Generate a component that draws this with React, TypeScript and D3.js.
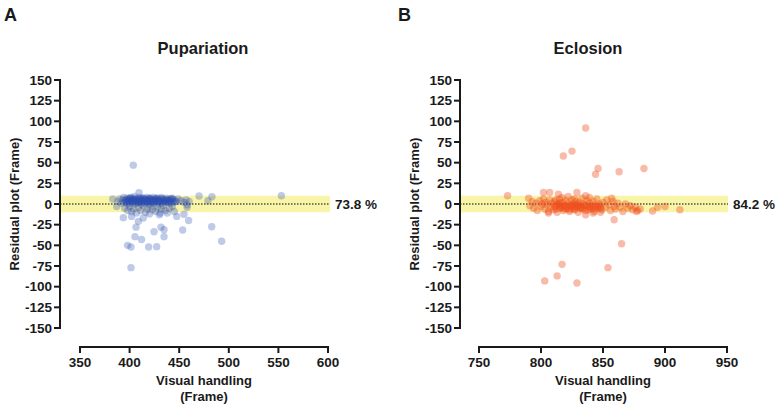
import React from "react";
import * as d3 from "d3";

// ---------- data ----------
const pupX: number[] = [
  388,390,392,393,394,395,396,397,398,398,399,400,400,401,402,403,403,404,405,405,
  406,407,408,408,409,410,410,411,412,412,413,414,415,415,416,417,418,418,419,420,
  420,421,422,423,424,424,425,426,427,428,428,429,430,431,432,433,434,435,436,437,
  438,439,440,441,442,443,444,445,447,449,452,455,457,458,460,
  396,399,401,404,406,409,411,413,416,419,421,423,426,429,431,434,437,440,443,446,
  397,400,403,405,408,411,414,417,420,422,425,427,430,433,436,439,442,
  395,398,400,402,404,407,409,411,414,416,418,420,421,423,426,428,430,432,434,436,438,440,443,445,
  403.7,409.5,553,470,483,479,387,383,393.7,402,408.8,413.8,406.5,424.6,431.7,434.7,434.7,405.4,
  412,398,401.4,419.2,427.3,401.4,447.5,454.8,459.5,453.5,482.8,492.8,431,458
];
const pupY: number[] = [
  3,6,1,5,8,2,4,7,0,5,3,6,1,8,4,2,7,5,0,9,
  3,6,1,4,7,2,5,8,3,0,6,4,1,7,5,2,8,3,6,0,
  4,7,2,5,1,8,3,6,4,0,7,2,5,3,8,1,6,4,2,7,
  5,3,6,1,4,7,2,5,3,6,4,2,5,-1,3,
  5,4,6,3,5,4,6,3,5,4,6,3,5,4,6,3,5,4,6,3,
  2,7,4,6,2,5,7,3,6,2,5,7,3,6,4,2,6,
  -5,-8,-3,-9,-6,-11,-4,-8,-2,-10,-6,-12,-3,-7,-9,-4,-13,-6,-2,-8,-11,-5,-3,-9,
  47,13.7,10,9.7,8.8,4,-3,6,-16.5,-15,-21,-17,-28,-33.5,-28,-31,-39.5,-39.5,
  -43,-50,-52,-52,-51.6,-77,-15,-12.5,-20,-31.5,-27.5,-45,-11,-4
];

const eclX: number[] = [
  790,791,793,794,796,797,799,800,801,802,803,804,805,806,807,808,809,810,811,812,
  813,814,815,815,816,817,818,819,820,820,821,822,823,824,825,825,826,827,828,828,
  829,830,831,832,833,833,834,835,836,837,838,839,840,841,842,843,844,845,846,847,
  848,849,850,852,853,855,856,858,859,860,862,864,866,868,870,872,874,876,878,880,
  811,814,816,819,821,824,826,829,831,834,836,839,841,844,846,
  812,818,823,827,832,838,843,848,815,830,
  817,822,836,842,806,812,827,839,848,857,
  836,818,825,846,844,863,883,859,865,817,813,803,829,854,773,802,807,814,829,836,877,890,894,900,912
];
const eclY: number[] = [
  7,-2,3,-5,1,-8,4,-3,0,6,-6,2,-1,-9,5,-4,1,-7,3,-2,
  -10,0,6,-5,-3,2,-8,-1,4,-6,-3,1,-9,-2,5,-5,0,-7,3,-3,
  -1,-10,2,-4,-6,7,0,-2,-8,4,-4,1,-6,-1,3,-9,-3,6,-5,0,
  -2,-7,2,-4,5,-1,-8,3,-3,-6,1,-4,-9,0,-5,-2,-7,-4,-8,-6,
  -3,-1,-4,-2,-5,-1,-3,-4,-2,-5,-1,-3,-4,-2,-3,
  -6,-5,-7,-6,-5,-7,-6,-5,1,0,
  8,9,10,-11,-11,5,6,8,-10,7,
  92,58,64,43,36,39,43,-19,-48,-73,-87,-93,-95.5,-77,10,14,14,12,14,-13,-9,-8.5,-4,-3,-7
];

const yTicks: number[] = [-150,-125,-100,-75,-50,-25,0,25,50,75,100,125,150];
const pupTicks: number[] = [350,400,450,500,550,600];
const eclTicks: number[] = [750,800,850,900,950];

const FONT = "'Liberation Sans', Arial, sans-serif";
const INK = "#1a1a1a";

type PanelProps = {
  letter: string;
  letterX: number;
  title: string;
  titleX: number;
  axisX: number;
  xDomain: [number, number];
  xRange: [number, number];
  xTicks: number[];
  xs: number[];
  ys: number[];
  color: string;
  opacity: number;
  pct: string;
  bandEnd: number;
  yLabelX: number;
};

const y = d3.scaleLinear().domain([-150, 150]).range([328, 80]);

function Panel(p: PanelProps) {
  const x = d3.scaleLinear().domain(p.xDomain).range(p.xRange);
  const xAxisY = 347;
  const plotCx = (p.xRange[0] + p.xRange[1]) / 2;
  return (
    <g>
      <text x={p.letterX} y={21} fontFamily={FONT} fontWeight="bold" fontSize={18} fill={INK}>{p.letter}</text>
      <text x={p.titleX} y={54} textAnchor="middle" fontFamily={FONT} fontWeight="bold" fontSize={16.5} fill={INK}>{p.title}</text>
      {/* band */}
      <rect x={p.axisX} y={y(10)} width={p.bandEnd - p.axisX} height={y(-10) - y(10)} fill="#f8f4a8" />
      <line x1={p.axisX} x2={p.bandEnd} y1={y(0)} y2={y(0)} stroke="#000" strokeWidth={1.2} strokeDasharray="1.5,1.5" />
      <text x={p.bandEnd + 5} y={y(0) + 4.5} fontFamily={FONT} fontWeight="bold" fontSize={13.5} fill={INK}>{p.pct}</text>
      {/* points */}
      {p.xs.map((xv, i) => (
        <circle key={i} cx={x(xv)} cy={y(p.ys[i])} r={3.7} fill={p.color} fillOpacity={p.opacity} />
      ))}
      {/* y axis */}
      <line x1={p.axisX} x2={p.axisX} y1={y(-150) + 1} y2={y(150) - 1} stroke={INK} strokeWidth={2} />
      {yTicks.map((t) => (
        <g key={t}>
          <line x1={p.axisX - 6} x2={p.axisX} y1={y(t)} y2={y(t)} stroke={INK} strokeWidth={2} />
          <text x={p.axisX - 8} y={y(t) + 4.7} textAnchor="end" fontFamily={FONT} fontWeight="bold" fontSize={13.5} fill={INK}>{t}</text>
        </g>
      ))}
      <text transform={`translate(${p.yLabelX},${y(0)}) rotate(-90)`} textAnchor="middle" fontFamily={FONT} fontWeight="bold" fontSize={13} fill={INK}>Residual plot (Frame)</text>
      {/* x axis */}
      <line x1={p.xRange[0] - 1} x2={p.xRange[1] + 1} y1={xAxisY} y2={xAxisY} stroke={INK} strokeWidth={2} />
      {p.xTicks.map((t) => (
        <g key={t}>
          <line x1={x(t)} x2={x(t)} y1={xAxisY} y2={xAxisY + 6} stroke={INK} strokeWidth={2} />
          <text x={x(t)} y={xAxisY + 20} textAnchor="middle" fontFamily={FONT} fontWeight="bold" fontSize={13.5} fill={INK}>{t}</text>
        </g>
      ))}
      <text x={plotCx} y={385} textAnchor="middle" fontFamily={FONT} fontWeight="bold" fontSize={13} fill={INK}>Visual handling</text>
      <text x={plotCx} y={401} textAnchor="middle" fontFamily={FONT} fontWeight="bold" fontSize={13} fill={INK}>(Frame)</text>
    </g>
  );
}

export default function App() {
  return (
    <svg width={778} height={411} style={{ position: "absolute", left: 0, top: 0, background: "#fff" }}>
      <rect width={778} height={411} fill="#fff" />
      <Panel
        letter="A" letterX={4} title="Pupariation" titleX={203} axisX={60}
        xDomain={[350, 600]} xRange={[80, 328]} xTicks={pupTicks}
        xs={pupX} ys={pupY} color="#2b4db3" opacity={0.3} pct="73.8 %" bandEnd={330} yLabelX={19}
      />
      <Panel
        letter="B" letterX={398} title="Eclosion" titleX={588} axisX={460}
        xDomain={[750, 950]} xRange={[479, 727]} xTicks={eclTicks}
        xs={eclX} ys={eclY} color="#ee4b1c" opacity={0.38} pct="84.2 %" bandEnd={728} yLabelX={419}
      />
    </svg>
  );
}
